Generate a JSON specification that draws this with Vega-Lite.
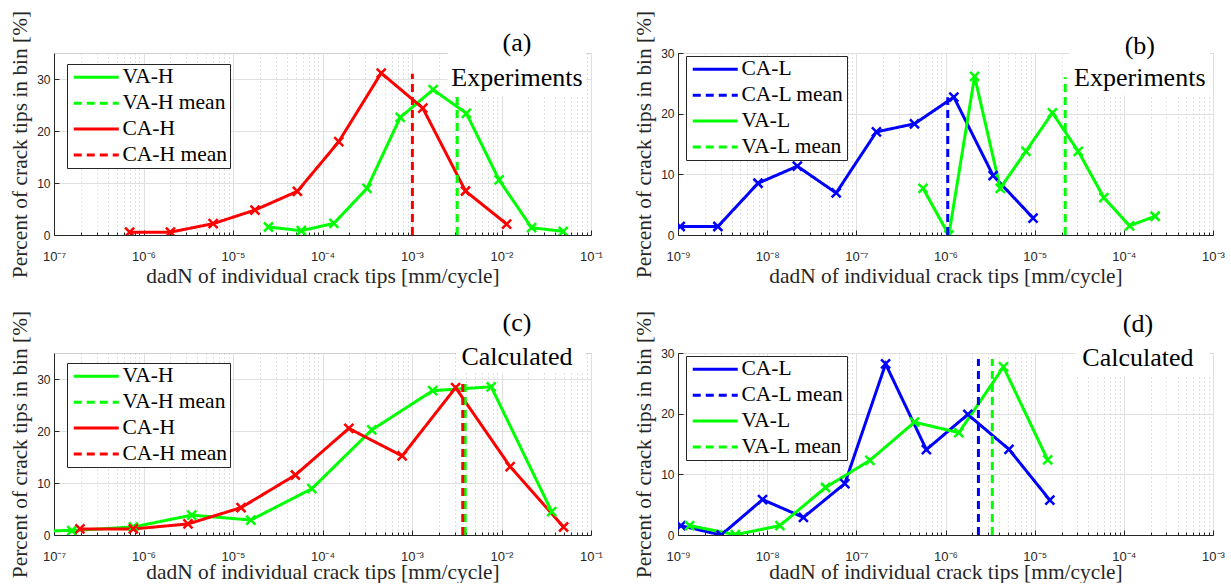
{
  "$schema": "https://vega.github.io/schema/vega-lite/v6.json",
  "padding": {"left": 9, "top": 9, "right": 0, "bottom": 0},
  "background": "white",
  "datasets": {
    "aL": [
      {"series": "VA-H", "x": 2.49e-5, "y": 1.54}, {"series": "VA-H", "x": 5.8e-5, "y": 0.83}, {"series": "VA-H", "x": 1.34e-4, "y": 2.24},
      {"series": "VA-H", "x": 3.14e-4, "y": 8.97}, {"series": "VA-H", "x": 7.38e-4, "y": 22.6}, {"series": "VA-H", "x": 1.72e-3, "y": 27.95},
      {"series": "VA-H", "x": 4.05e-3, "y": 23.4}, {"series": "VA-H", "x": 9.4e-3, "y": 10.58}, {"series": "VA-H", "x": 2.17e-2, "y": 1.4},
      {"series": "VA-H", "x": 4.9e-2, "y": 0.7},
      {"series": "CA-H", "x": 7.0e-7, "y": 0.55}, {"series": "CA-H", "x": 2.0e-6, "y": 0.55}, {"series": "CA-H", "x": 6.0e-6, "y": 2.18},
      {"series": "CA-H", "x": 1.76e-5, "y": 4.8}, {"series": "CA-H", "x": 5.24e-5, "y": 8.4}, {"series": "CA-H", "x": 1.52e-4, "y": 17.95},
      {"series": "CA-H", "x": 4.53e-4, "y": 31.15}, {"series": "CA-H", "x": 1.32e-3, "y": 24.4}, {"series": "CA-H", "x": 3.96e-3, "y": 8.46},
      {"series": "CA-H", "x": 1.14e-2, "y": 2.1}
    ],
    "aM": [
      {"series": "VA-H mean", "x": 3.2e-3, "y": 0}, {"series": "VA-H mean", "x": 3.2e-3, "y": 27.95},
      {"series": "CA-H mean", "x": 1.01e-3, "y": 0}, {"series": "CA-H mean", "x": 1.01e-3, "y": 31.0}
    ],
    "bL": [
      {"series": "CA-L", "x": 1.06e-9, "y": 1.4}, {"series": "CA-L", "x": 2.8e-9, "y": 1.4}, {"series": "CA-L", "x": 7.9e-9, "y": 8.53},
      {"series": "CA-L", "x": 2.18e-8, "y": 11.34}, {"series": "CA-L", "x": 5.94e-8, "y": 6.93}, {"series": "CA-L", "x": 1.68e-7, "y": 17.0},
      {"series": "CA-L", "x": 4.49e-7, "y": 18.33}, {"series": "CA-L", "x": 1.24e-6, "y": 22.73}, {"series": "CA-L", "x": 3.42e-6, "y": 9.8},
      {"series": "CA-L", "x": 9.6e-6, "y": 2.8},
      {"series": "VA-L", "x": 5.6e-7, "y": 7.7}, {"series": "VA-L", "x": 1.09e-6, "y": 0.0}, {"series": "VA-L", "x": 2.12e-6, "y": 26.14},
      {"series": "VA-L", "x": 4.11e-6, "y": 7.7}, {"series": "VA-L", "x": 7.98e-6, "y": 13.8}, {"series": "VA-L", "x": 1.58e-5, "y": 20.14},
      {"series": "VA-L", "x": 3.08e-5, "y": 13.8}, {"series": "VA-L", "x": 5.97e-5, "y": 6.16}, {"series": "VA-L", "x": 1.16e-4, "y": 1.52},
      {"series": "VA-L", "x": 2.24e-4, "y": 3.09}
    ],
    "bM": [
      {"series": "CA-L mean", "x": 1.06e-6, "y": 0}, {"series": "CA-L mean", "x": 1.06e-6, "y": 22.7},
      {"series": "VA-L mean", "x": 2.2e-5, "y": 0}, {"series": "VA-L mean", "x": 2.2e-5, "y": 26.0}
    ],
    "cL": [
      {"series": "VA-H", "x": 3.4e-8, "y": 0.8}, {"series": "VA-H", "x": 1.58e-7, "y": 0.85}, {"series": "VA-H", "x": 7.7e-7, "y": 1.55},
      {"series": "VA-H", "x": 3.46e-6, "y": 3.82}, {"series": "VA-H", "x": 1.58e-5, "y": 2.88}, {"series": "VA-H", "x": 7.6e-5, "y": 8.9},
      {"series": "VA-H", "x": 3.55e-4, "y": 20.2}, {"series": "VA-H", "x": 1.7e-3, "y": 27.75}, {"series": "VA-H", "x": 7.67e-3, "y": 28.5},
      {"series": "VA-H", "x": 3.64e-2, "y": 4.5},
      {"series": "CA-H", "x": 1.95e-7, "y": 1.16}, {"series": "CA-H", "x": 7.7e-7, "y": 1.16}, {"series": "CA-H", "x": 3.14e-6, "y": 2.13},
      {"series": "CA-H", "x": 1.23e-5, "y": 5.26}, {"series": "CA-H", "x": 4.98e-5, "y": 11.54}, {"series": "CA-H", "x": 1.97e-4, "y": 20.5},
      {"series": "CA-H", "x": 7.76e-4, "y": 15.2}, {"series": "CA-H", "x": 3.07e-3, "y": 28.33}, {"series": "CA-H", "x": 1.25e-2, "y": 13.14},
      {"series": "CA-H", "x": 4.94e-2, "y": 1.54}
    ],
    "cM": [
      {"series": "VA-H mean", "x": 3.93e-3, "y": 0}, {"series": "VA-H mean", "x": 3.93e-3, "y": 30.0},
      {"series": "CA-H mean", "x": 3.69e-3, "y": 0}, {"series": "CA-H mean", "x": 3.69e-3, "y": 30.0}
    ],
    "dL": [
      {"series": "CA-L", "x": 1.08e-9, "y": 1.53}, {"series": "CA-L", "x": 3.05e-9, "y": 0.0}, {"series": "CA-L", "x": 8.87e-9, "y": 5.84},
      {"series": "CA-L", "x": 2.55e-8, "y": 2.9}, {"series": "CA-L", "x": 7.43e-8, "y": 8.48}, {"series": "CA-L", "x": 2.13e-7, "y": 28.19},
      {"series": "CA-L", "x": 6.1e-7, "y": 14.07}, {"series": "CA-L", "x": 1.78e-6, "y": 19.87}, {"series": "CA-L", "x": 5.15e-6, "y": 14.12},
      {"series": "CA-L", "x": 1.48e-5, "y": 5.75},
      {"series": "VA-L", "x": 1.35e-9, "y": 1.55}, {"series": "VA-L", "x": 4.39e-9, "y": 0.05}, {"series": "VA-L", "x": 1.39e-8, "y": 1.55},
      {"series": "VA-L", "x": 4.51e-8, "y": 7.83}, {"series": "VA-L", "x": 1.42e-7, "y": 12.3}, {"series": "VA-L", "x": 4.49e-7, "y": 18.6},
      {"series": "VA-L", "x": 1.41e-6, "y": 16.86}, {"series": "VA-L", "x": 4.47e-6, "y": 27.7}, {"series": "VA-L", "x": 1.4e-5, "y": 12.37}
    ],
    "dM": [
      {"series": "CA-L mean", "x": 2.34e-6, "y": 0}, {"series": "CA-L mean", "x": 2.34e-6, "y": 29.0},
      {"series": "VA-L mean", "x": 3.35e-6, "y": 0}, {"series": "VA-L mean", "x": 3.35e-6, "y": 29.0}
    ]
  },
  "columns": 2,
  "bounds": "flush",
  "spacing": {"row": 118, "column": 87},
  "resolve": {"scale": {"color": "independent", "strokeDash": "independent"}, "legend": {"color": "independent", "strokeDash": "independent"}},
  "concat": [
    {
      "width": 537, "height": 182,
      "layer": [
        {
          "data": {"name": "aL"},
          "mark": {"type": "line", "strokeWidth": 3, "clip": true},
          "encoding": {
            "x": {"field": "x", "type": "quantitative", "scale": {"type": "log", "domain": [1e-7, 0.1], "nice": false},
                  "axis": {"values": [1e-7,2e-7,3e-7,4e-7,5e-7,6e-7,7e-7,8e-7,9e-7,1e-6,2e-6,3e-6,4e-6,5e-6,6e-6,7e-6,8e-6,9e-6,1e-5,2e-5,3e-5,4e-5,5e-5,6e-5,7e-5,8e-5,9e-5,1e-4,2e-4,3e-4,4e-4,5e-4,6e-4,7e-4,8e-4,9e-4,1e-3,2e-3,3e-3,4e-3,5e-3,6e-3,7e-3,8e-3,9e-3,1e-2,2e-2,3e-2,4e-2,5e-2,6e-2,7e-2,8e-2,9e-2,1e-1],
                           "title": "dadN of individual crack tips [mm/cycle]"}},
            "y": {"field": "y", "type": "quantitative", "scale": {"domain": [0, 35], "nice": false}, "axis": {"values": [0, 10, 20, 30], "title": "Percent of crack tips in bin [%]"}},
            "color": {"field": "series", "type": "nominal", "scale": {"domain": ["VA-H", "VA-H mean", "CA-H", "CA-H mean"], "range": ["#00ff00", "#00ff00", "#ff0000", "#ff0000"]},
                      "legend": {"legendX": 13, "legendY": 11, "title": null}},
            "strokeDash": {"field": "series", "type": "nominal", "scale": {"domain": ["VA-H", "VA-H mean", "CA-H", "CA-H mean"], "range": [[1, 0], [8, 5], [1, 0], [8, 5]]},
                      "legend": {"legendX": 13, "legendY": 11, "title": null}}
          }
        },
        {
          "data": {"name": "aL"},
          "mark": {"type": "point", "shape": "M-1,-1L1,1M-1,1L1,-1", "size": 81, "strokeWidth": 2.5, "filled": false, "opacity": 1, "clip": true},
          "encoding": {
            "x": {"field": "x", "type": "quantitative", "scale": {"type": "log", "domain": [1e-7, 0.1], "nice": false}},
            "y": {"field": "y", "type": "quantitative", "scale": {"domain": [0, 35], "nice": false}},
            "color": {"field": "series", "type": "nominal", "scale": {"domain": ["VA-H", "VA-H mean", "CA-H", "CA-H mean"], "range": ["#00ff00", "#00ff00", "#ff0000", "#ff0000"]}}
          }
        },
        {
          "data": {"name": "aM"},
          "mark": {"type": "line", "strokeWidth": 3},
          "encoding": {
            "x": {"field": "x", "type": "quantitative", "scale": {"type": "log", "domain": [1e-7, 0.1], "nice": false}},
            "y": {"field": "y", "type": "quantitative", "scale": {"domain": [0, 35], "nice": false}},
            "color": {"field": "series", "type": "nominal", "scale": {"domain": ["VA-H", "VA-H mean", "CA-H", "CA-H mean"], "range": ["#00ff00", "#00ff00", "#ff0000", "#ff0000"]}},
            "strokeDash": {"field": "series", "type": "nominal", "scale": {"domain": ["VA-H", "VA-H mean", "CA-H", "CA-H mean"], "range": [[1, 0], [8, 5], [1, 0], [8, 5]]}}
          }
        },
        {
          "data": {"values": [{}]},
          "mark": {"type": "rect", "fill": "white"},
          "encoding": {
            "x": {"datum": 0.0025, "type": "quantitative"},
            "x2": {"datum": 0.088},
            "y": {"datum": 26.8, "type": "quantitative"},
            "y2": {"datum": 35.4}
          }
        },
        {
          "data": {"values": [{}]},
          "mark": {"type": "text", "text": "(a)", "font": "Liberation Serif", "fontSize": 26, "align": "center", "baseline": "middle", "color": "black"},
          "encoding": {
            "x": {"datum": 0.0149, "type": "quantitative"},
            "y": {"datum": 36.98, "type": "quantitative"}
          }
        },
        {
          "data": {"values": [{}]},
          "mark": {"type": "text", "text": "Experiments", "font": "Liberation Serif", "fontSize": 26, "align": "center", "baseline": "middle", "color": "black"},
          "encoding": {
            "x": {"datum": 0.0149, "type": "quantitative"},
            "y": {"datum": 30.19, "type": "quantitative"}
          }
        }
      ]
    },
    {
      "width": 535, "height": 182,
      "layer": [
        {
          "data": {"name": "bL"},
          "mark": {"type": "line", "strokeWidth": 3, "clip": true},
          "encoding": {
            "x": {"field": "x", "type": "quantitative", "scale": {"type": "log", "domain": [1e-9, 1e-3], "nice": false},
                  "axis": {"values": [1e-9,2e-9,3e-9,4e-9,5e-9,6e-9,7e-9,8e-9,9e-9,1e-8,2e-8,3e-8,4e-8,5e-8,6e-8,7e-8,8e-8,9e-8,1e-7,2e-7,3e-7,4e-7,5e-7,6e-7,7e-7,8e-7,9e-7,1e-6,2e-6,3e-6,4e-6,5e-6,6e-6,7e-6,8e-6,9e-6,1e-5,2e-5,3e-5,4e-5,5e-5,6e-5,7e-5,8e-5,9e-5,1e-4,2e-4,3e-4,4e-4,5e-4,6e-4,7e-4,8e-4,9e-4,1e-3],
                           "title": "dadN of individual crack tips [mm/cycle]"}},
            "y": {"field": "y", "type": "quantitative", "scale": {"domain": [0, 30], "nice": false}, "axis": {"values": [0, 10, 20, 30], "title": "Percent of crack tips in bin [%]"}},
            "color": {"field": "series", "type": "nominal", "scale": {"domain": ["CA-L", "CA-L mean", "VA-L", "VA-L mean"], "range": ["#0000ff", "#0000ff", "#00ff00", "#00ff00"]},
                      "legend": {"legendX": 8, "legendY": 3, "title": null}},
            "strokeDash": {"field": "series", "type": "nominal", "scale": {"domain": ["CA-L", "CA-L mean", "VA-L", "VA-L mean"], "range": [[1, 0], [8, 5], [1, 0], [8, 5]]},
                      "legend": {"legendX": 8, "legendY": 3, "title": null}}
          }
        },
        {
          "data": {"name": "bL"},
          "mark": {"type": "point", "shape": "M-1,-1L1,1M-1,1L1,-1", "size": 81, "strokeWidth": 2.5, "filled": false, "opacity": 1, "clip": true},
          "encoding": {
            "x": {"field": "x", "type": "quantitative", "scale": {"type": "log", "domain": [1e-9, 1e-3], "nice": false}},
            "y": {"field": "y", "type": "quantitative", "scale": {"domain": [0, 30], "nice": false}},
            "color": {"field": "series", "type": "nominal", "scale": {"domain": ["CA-L", "CA-L mean", "VA-L", "VA-L mean"], "range": ["#0000ff", "#0000ff", "#00ff00", "#00ff00"]}}
          }
        },
        {
          "data": {"name": "bM"},
          "mark": {"type": "line", "strokeWidth": 3},
          "encoding": {
            "x": {"field": "x", "type": "quantitative", "scale": {"type": "log", "domain": [1e-9, 1e-3], "nice": false}},
            "y": {"field": "y", "type": "quantitative", "scale": {"domain": [0, 30], "nice": false}},
            "color": {"field": "series", "type": "nominal", "scale": {"domain": ["CA-L", "CA-L mean", "VA-L", "VA-L mean"], "range": ["#0000ff", "#0000ff", "#00ff00", "#00ff00"]}},
            "strokeDash": {"field": "series", "type": "nominal", "scale": {"domain": ["CA-L", "CA-L mean", "VA-L", "VA-L mean"], "range": [[1, 0], [8, 5], [1, 0], [8, 5]]}}
          }
        },
        {
          "data": {"values": [{}]},
          "mark": {"type": "rect", "fill": "white"},
          "encoding": {
            "x": {"datum": 2.45e-5, "type": "quantitative"},
            "x2": {"datum": 0.00092},
            "y": {"datum": 23, "type": "quantitative"},
            "y2": {"datum": 30.4}
          }
        },
        {
          "data": {"values": [{}]},
          "mark": {"type": "text", "text": "(b)", "font": "Liberation Serif", "fontSize": 26, "align": "center", "baseline": "middle", "color": "black"},
          "encoding": {
            "x": {"datum": 1.51e-4, "type": "quantitative"},
            "y": {"datum": 31.14, "type": "quantitative"}
          }
        },
        {
          "data": {"values": [{}]},
          "mark": {"type": "text", "text": "Experiments", "font": "Liberation Serif", "fontSize": 26, "align": "center", "baseline": "middle", "color": "black"},
          "encoding": {
            "x": {"datum": 1.51e-4, "type": "quantitative"},
            "y": {"datum": 25.8, "type": "quantitative"}
          }
        }
      ]
    },
    {
      "width": 537, "height": 182,
      "layer": [
        {
          "data": {"name": "cL"},
          "mark": {"type": "line", "strokeWidth": 3, "clip": true},
          "encoding": {
            "x": {"field": "x", "type": "quantitative", "scale": {"type": "log", "domain": [1e-7, 0.1], "nice": false},
                  "axis": {"values": [1e-7,2e-7,3e-7,4e-7,5e-7,6e-7,7e-7,8e-7,9e-7,1e-6,2e-6,3e-6,4e-6,5e-6,6e-6,7e-6,8e-6,9e-6,1e-5,2e-5,3e-5,4e-5,5e-5,6e-5,7e-5,8e-5,9e-5,1e-4,2e-4,3e-4,4e-4,5e-4,6e-4,7e-4,8e-4,9e-4,1e-3,2e-3,3e-3,4e-3,5e-3,6e-3,7e-3,8e-3,9e-3,1e-2,2e-2,3e-2,4e-2,5e-2,6e-2,7e-2,8e-2,9e-2,1e-1],
                           "title": "dadN of individual crack tips [mm/cycle]", "titlePadding": -4}},
            "y": {"field": "y", "type": "quantitative", "scale": {"domain": [0, 35], "nice": false}, "axis": {"values": [0, 10, 20, 30], "title": "Percent of crack tips in bin [%]"}},
            "color": {"field": "series", "type": "nominal", "scale": {"domain": ["VA-H", "VA-H mean", "CA-H", "CA-H mean"], "range": ["#00ff00", "#00ff00", "#ff0000", "#ff0000"]},
                      "legend": {"legendX": 13, "legendY": 10, "title": null}},
            "strokeDash": {"field": "series", "type": "nominal", "scale": {"domain": ["VA-H", "VA-H mean", "CA-H", "CA-H mean"], "range": [[1, 0], [8, 5], [1, 0], [8, 5]]},
                      "legend": {"legendX": 13, "legendY": 10, "title": null}}
          }
        },
        {
          "data": {"name": "cL"},
          "mark": {"type": "point", "shape": "M-1,-1L1,1M-1,1L1,-1", "size": 81, "strokeWidth": 2.5, "filled": false, "opacity": 1, "clip": true},
          "encoding": {
            "x": {"field": "x", "type": "quantitative", "scale": {"type": "log", "domain": [1e-7, 0.1], "nice": false}},
            "y": {"field": "y", "type": "quantitative", "scale": {"domain": [0, 35], "nice": false}},
            "color": {"field": "series", "type": "nominal", "scale": {"domain": ["VA-H", "VA-H mean", "CA-H", "CA-H mean"], "range": ["#00ff00", "#00ff00", "#ff0000", "#ff0000"]}}
          }
        },
        {
          "data": {"name": "cM"},
          "mark": {"type": "line", "strokeWidth": 3},
          "encoding": {
            "x": {"field": "x", "type": "quantitative", "scale": {"type": "log", "domain": [1e-7, 0.1], "nice": false}},
            "y": {"field": "y", "type": "quantitative", "scale": {"domain": [0, 35], "nice": false}},
            "color": {"field": "series", "type": "nominal", "scale": {"domain": ["VA-H", "VA-H mean", "CA-H", "CA-H mean"], "range": ["#00ff00", "#00ff00", "#ff0000", "#ff0000"]}},
            "strokeDash": {"field": "series", "type": "nominal", "scale": {"domain": ["VA-H", "VA-H mean", "CA-H", "CA-H mean"], "range": [[1, 0], [8, 5], [1, 0], [8, 5]]}}
          }
        },
        {
          "data": {"values": [{}]},
          "mark": {"type": "rect", "fill": "white"},
          "encoding": {
            "x": {"datum": 0.0031, "type": "quantitative"},
            "x2": {"datum": 0.088},
            "y": {"datum": 31.2, "type": "quantitative"},
            "y2": {"datum": 35.4}
          }
        },
        {
          "data": {"values": [{}]},
          "mark": {"type": "text", "text": "(c)", "font": "Liberation Serif", "fontSize": 26, "align": "center", "baseline": "middle", "color": "black"},
          "encoding": {
            "x": {"datum": 0.0149, "type": "quantitative"},
            "y": {"datum": 40.86, "type": "quantitative"}
          }
        },
        {
          "data": {"values": [{}]},
          "mark": {"type": "text", "text": "Calculated", "font": "Liberation Serif", "fontSize": 26, "align": "center", "baseline": "middle", "color": "black"},
          "encoding": {
            "x": {"datum": 0.0149, "type": "quantitative"},
            "y": {"datum": 34.32, "type": "quantitative"}
          }
        }
      ]
    },
    {
      "width": 535, "height": 182,
      "layer": [
        {
          "data": {"name": "dL"},
          "mark": {"type": "line", "strokeWidth": 3, "clip": true},
          "encoding": {
            "x": {"field": "x", "type": "quantitative", "scale": {"type": "log", "domain": [1e-9, 1e-3], "nice": false},
                  "axis": {"values": [1e-9,2e-9,3e-9,4e-9,5e-9,6e-9,7e-9,8e-9,9e-9,1e-8,2e-8,3e-8,4e-8,5e-8,6e-8,7e-8,8e-8,9e-8,1e-7,2e-7,3e-7,4e-7,5e-7,6e-7,7e-7,8e-7,9e-7,1e-6,2e-6,3e-6,4e-6,5e-6,6e-6,7e-6,8e-6,9e-6,1e-5,2e-5,3e-5,4e-5,5e-5,6e-5,7e-5,8e-5,9e-5,1e-4,2e-4,3e-4,4e-4,5e-4,6e-4,7e-4,8e-4,9e-4,1e-3],
                           "title": "dadN of individual crack tips [mm/cycle]", "titlePadding": -4}},
            "y": {"field": "y", "type": "quantitative", "scale": {"domain": [0, 30], "nice": false}, "axis": {"values": [0, 10, 20, 30], "title": "Percent of crack tips in bin [%]"}},
            "color": {"field": "series", "type": "nominal", "scale": {"domain": ["CA-L", "CA-L mean", "VA-L", "VA-L mean"], "range": ["#0000ff", "#0000ff", "#00ff00", "#00ff00"]},
                      "legend": {"legendX": 8, "legendY": 3, "title": null}},
            "strokeDash": {"field": "series", "type": "nominal", "scale": {"domain": ["CA-L", "CA-L mean", "VA-L", "VA-L mean"], "range": [[1, 0], [8, 5], [1, 0], [8, 5]]},
                      "legend": {"legendX": 8, "legendY": 3, "title": null}}
          }
        },
        {
          "data": {"name": "dL"},
          "mark": {"type": "point", "shape": "M-1,-1L1,1M-1,1L1,-1", "size": 81, "strokeWidth": 2.5, "filled": false, "opacity": 1, "clip": true},
          "encoding": {
            "x": {"field": "x", "type": "quantitative", "scale": {"type": "log", "domain": [1e-9, 1e-3], "nice": false}},
            "y": {"field": "y", "type": "quantitative", "scale": {"domain": [0, 30], "nice": false}},
            "color": {"field": "series", "type": "nominal", "scale": {"domain": ["CA-L", "CA-L mean", "VA-L", "VA-L mean"], "range": ["#0000ff", "#0000ff", "#00ff00", "#00ff00"]}}
          }
        },
        {
          "data": {"name": "dM"},
          "mark": {"type": "line", "strokeWidth": 3},
          "encoding": {
            "x": {"field": "x", "type": "quantitative", "scale": {"type": "log", "domain": [1e-9, 1e-3], "nice": false}},
            "y": {"field": "y", "type": "quantitative", "scale": {"domain": [0, 30], "nice": false}},
            "color": {"field": "series", "type": "nominal", "scale": {"domain": ["CA-L", "CA-L mean", "VA-L", "VA-L mean"], "range": ["#0000ff", "#0000ff", "#00ff00", "#00ff00"]}},
            "strokeDash": {"field": "series", "type": "nominal", "scale": {"domain": ["CA-L", "CA-L mean", "VA-L", "VA-L mean"], "range": [[1, 0], [8, 5], [1, 0], [8, 5]]}}
          }
        },
        {
          "data": {"values": [{}]},
          "mark": {"type": "rect", "fill": "white"},
          "encoding": {
            "x": {"datum": 2.87e-5, "type": "quantitative"},
            "x2": {"datum": 0.00092},
            "y": {"datum": 26.2, "type": "quantitative"},
            "y2": {"datum": 30.4}
          }
        },
        {
          "data": {"values": [{}]},
          "mark": {"type": "text", "text": "(d)", "font": "Liberation Serif", "fontSize": 26, "align": "center", "baseline": "middle", "color": "black"},
          "encoding": {
            "x": {"datum": 1.44e-4, "type": "quantitative"},
            "y": {"datum": 34.72, "type": "quantitative"}
          }
        },
        {
          "data": {"values": [{}]},
          "mark": {"type": "text", "text": "Calculated", "font": "Liberation Serif", "fontSize": 26, "align": "center", "baseline": "middle", "color": "black"},
          "encoding": {
            "x": {"datum": 1.44e-4, "type": "quantitative"},
            "y": {"datum": 29.2, "type": "quantitative"}
          }
        }
      ]
    }
  ],
  "config": {
    "font": "Liberation Sans",
    "view": {"stroke": "#d0d0d0", "strokeWidth": 1},
    "axis": {
      "grid": true,
      "gridWidth": 1,
      "domainColor": "#262626",
      "domainWidth": 1,
      "tickColor": "#262626",
      "tickWidth": 1,
      "labelFont": "Liberation Sans",
      "labelFontSize": 12,
      "labelColor": "#262626",
      "labelFlush": false,
      "labelOverlap": false,
      "titleFont": "Liberation Serif",
      "titleFontSize": 21.4,
      "titleFontWeight": "normal",
      "titleColor": "#262626"
    },
    "axisX": {
      "labelPadding": 20,
      "labelFontSize": 13,
      "titlePadding": 0,
      "labelExpr": "abs(log(datum.value)/LN10 - round(log(datum.value)/LN10)) < 0.001 ? '10⁻' + ['⁰','¹','²','³','⁴','⁵','⁶','⁷','⁸','⁹'][round(-log(datum.value)/LN10)] : ''",
      "gridColor": {"condition": {"test": "abs(log(datum.value)/LN10 - round(log(datum.value)/LN10)) < 0.001", "value": "#e0e0e0"}, "value": "#c4c4c4"},
      "gridDash": {"condition": {"test": "abs(log(datum.value)/LN10 - round(log(datum.value)/LN10)) < 0.001", "value": []}, "value": [1, 3]},
      "tickSize": {"condition": {"test": "abs(log(datum.value)/LN10 - round(log(datum.value)/LN10)) < 0.001", "value": -5}, "value": -3}
    },
    "axisY": {"labelPadding": 9, "titlePadding": 6, "tickSize": -5, "gridColor": "#e0e0e0"},
    "legend": {
      "orient": "none",
      "labelFont": "Liberation Serif",
      "labelFontSize": 21.5,
      "labelColor": "#000000",
      "strokeColor": "#262626",
      "strokeWidth": 1,
      "fillColor": "white",
      "padding": 2.5,
      "rowPadding": 2.9,
      "labelOffset": 15.5,
      "symbolOffset": 16,
      "symbolType": "M-3,0H3",
      "symbolSize": 225,
      "symbolStrokeWidth": 3,
      "labelLimit": 300
    }
  }
}
